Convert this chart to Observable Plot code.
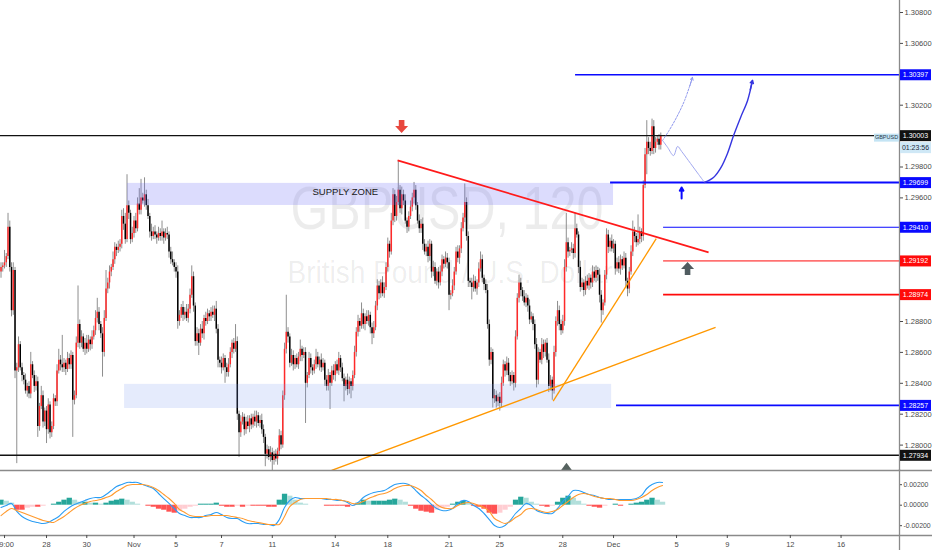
<!DOCTYPE html>
<html>
<head>
<meta charset="utf-8">
<script src="https://cdn.jsdelivr.net/npm/d3@7"></script>
<script src="https://cdn.jsdelivr.net/npm/@observablehq/plot@0.6"></script>
<style>
html, body { margin: 0; padding: 0; background: #fff; overflow: hidden; }
#chart { position: relative; width: 932px; height: 550px; }
#chart svg { position: absolute; left: 0; }
</style>
</head>
<body>
<div id="chart"></div>
<script>
// ================= DATA =================
// GBPUSD 2-hour candles. Closes in pips above 1.2000 (price = 1.2 + pips / 10000)
const firstOpenPips = 912;
const closePips = [
915,916,918,922,941,915,887,913,848,850, 865,850,845,842,835,838,833,852,845,838,
841,812,825,832,815,822,810,826,808,812, 830,828,848,855,852,850,853,849,856,852,
858,829,832,866,878,866,870,862,866,862, 868,865,870,874,882,886,878,872,860,882,
901,905,912,915,920,928,926,928,930,948, 943,933,955,950,933,937,945,940,956,952,
960,958,962,955,948,938,935,938,936,934, 937,935,938,934,937,936,925,920,918,915,
912,880,884,889,884,886,882,888,897,909, 890,867,872,866,875,872,882,880,885,883,
886,884,888,875,855,853,850,856,850,847, 852,860,866,862,867,820,808,815,818,810,
815,812,817,813,818,815,819,814,816,810, 805,794,797,792,795,790,794,791,796,806,
800,832,862,873,870,853,858,852,856,852, 857,862,858,860,840,845,856,850,848,852,
857,852,855,850,853,842,838,845,840,848, 845,852,848,856,850,843,838,842,836,841,
838,845,860,873,880,877,885,878,883,880, 884,876,872,876,890,903,898,905,898,902,
915,930,925,945,962,948,957,965,953,962, 958,945,941,948,954,960,965,955,945,940,
943,930,925,928,922,930,912,915,906,912, 905,912,920,917,921,918,897,898,903,912,
925,921,927,940,947,957,935,906,905,902, 906,901,905,914,920,908,904,900,878,855,
860,830,832,828,831,827,840,852,848,853, 845,841,845,840,870,895,905,900,896,892,
895,890,881,883,878,865,842,860,855,865, 860,866,855,838,842,835,860,880,887,878,
874,880,915,931,925,926,927,924,940,936, 915,902,905,900,906,903,908,905,912,908,
913,910,897,887,892,910,936,928,932,927, 930,914,918,914,920,916,921,906,901,912,
925,938,935,931,933,938,935,968,988,996, 992,990,1006,992,996,998,994,1000
];
// upper / lower wick lengths in pips beyond the candle body
const wickUpPips = [
3,2,8,2,9,4,3,5,2,3, 5,2,3,2,4,2,3,8,2,3,
4,3,2,6,3,2,3,4,2,3, 3,2,4,7,3,19,3,2,4,3,
3,2,3,4,25,3,4,2,3,5, 3,2,4,3,5,9,3,2,4,5,
12,3,4,2,5,3,2,4,3,4, 5,7,20,3,2,4,3,5,4,10,
12,3,11,3,4,2,5,3,4,2, 4,3,7,2,3,4,2,3,5,2,
3,4,3,2,4,3,5,3,4,7, 3,2,4,3,3,5,2,4,3,2,
3,4,2,5,3,2,4,3,2,3, 4,3,2,3,11,3,2,4,3,2,
3,4,2,3,2,4,3,2,3,4, 3,2,3,2,4,3,2,3,2,4,
3,3,4,24,3,2,4,3,2,3, 3,6,2,3,3,2,4,3,2,3,
5,3,2,4,3,2,3,4,2,3, 4,2,3,4,2,3,3,2,4,3,
2,3,4,3,4,2,7,3,2,4, 3,2,3,4,3,4,3,2,4,3,
3,4,2,5,4,3,4,19,3,5, 3,4,2,3,4,3,5,3,2,4,
3,4,3,2,4,3,2,4,3,2, 3,4,3,2,4,3,3,2,4,3,
3,4,2,4,3,12,3,3,2,3, 4,3,2,4,5,3,2,3,4,3,
3,2,4,3,2,3,4,3,2,4, 3,2,3,2,4,3,5,3,2,4,
3,2,4,3,2,3,4,3,2,4, 3,2,3,4,3,2,4,3,6,3,
3,4,5,19,3,2,4,3,10,3, 2,4,3,2,3,4,3,2,4,3,
3,2,4,3,2,3,4,3,2,4, 3,2,3,4,3,2,4,3,2,3,
4,7,3,2,16,3,2,3,4,14, 3,4,5,4,3,2,3,2
];
const wickDownPips = [
4,3,2,3,2,3,4,3,5,60, 3,2,4,3,2,4,3,3,2,4,
3,7,3,2,4,3,9,3,4,3, 2,3,3,2,4,3,3,4,2,3,
3,24,3,2,3,4,3,2,4,3, 2,4,3,2,3,3,4,3,16,3,
2,3,4,3,2,3,4,2,3,3, 4,3,2,4,3,2,3,3,2,3,
3,2,4,3,2,4,3,2,3,4, 2,3,3,4,2,3,4,3,2,3,
4,5,3,2,4,3,2,3,3,2, 4,3,3,8,2,3,4,3,2,3,
3,2,4,3,5,3,4,2,10,3, 3,2,4,3,2,4,16,3,2,4,
3,2,4,3,2,3,4,2,3,3, 4,8,3,2,3,7,3,2,4,3,
3,2,3,3,4,3,2,4,3,2, 3,3,4,2,26,3,2,4,3,2,
3,2,4,3,2,4,3,3,17,2, 3,4,2,3,3,2,10,3,4,3,
8,3,2,3,3,4,2,3,4,2, 3,4,7,3,2,3,4,3,2,3,
2,3,4,2,3,4,3,2,3,4, 3,2,4,3,2,3,4,3,2,3,
3,4,2,3,4,3,4,3,2,3, 4,2,3,3,2,4,10,3,2,3,
2,3,4,3,2,3,3,4,3,8, 3,2,4,3,2,3,4,2,3,4,
3,6,3,4,3,5,3,2,4,3, 4,3,2,5,3,2,3,4,3,2,
3,4,3,2,4,3,5,3,2,3, 4,3,2,4,3,6,2,3,3,4,
3,2,3,3,4,3,2,4,3,2, 4,3,2,4,3,2,3,4,3,2,
3,4,5,8,3,2,3,4,3,2, 3,4,2,3,4,3,2,4,5,3,
2,3,4,3,2,3,4,3,2,13, 4,3,2,4,3,2,3,3
];

// MACD pane, read every 3rd bar, in units of 0.00001
const macdStepBars = 3;
const macdLine = [
-22,-3,17,-61,-110,-140,-159,-169,-179,-169, -140,-110,-61,-22,7,26,46,65,75,75,
104,143,183,202,222,222,222,202,183,163, 114,65,17,-32,-81,-101,-120,-120,-120,-101,
-91,-71,-91,-120,-130,-130,-159,-179,-179,-179, -188,-188,-198,-140,-22,46,75,65,65,65,
65,65,56,56,46,46,26,-3,26,75, 104,124,134,143,173,202,212,212,192,143,
95,56,7,-32,-52,-52,-32,17,46,36, -3,-32,-81,-140,-198,-218,-198,-149,-81,-32,
17,-3,-52,-71,-81,-81,-32,36,85,143, 143,124,104,95,75,65,56,56,56,56,
56,65,95,163,202,222,222
];
const signalLine = [
-101,-61,-32,-52,-71,-91,-110,-130,-149,-159, -169,-140,-110,-71,-32,-3,17,36,46,56,
75,95,134,163,192,202,202,202,192,173, 143,104,65,17,-42,-71,-101,-110,-110,-110,
-101,-101,-101,-101,-110,-120,-130,-149,-159,-169, -179,-188,-188,-188,-110,-13,26,56,65,65,
65,65,65,56,56,46,36,17,17,36, 65,85,104,114,134,163,183,192,192,173,
143,95,56,7,-22,-32,-32,-3,17,26, 17,-3,-22,-61,-130,-159,-179,-159,-120,-91,
-42,-32,-42,-61,-71,-61,-42,-3,36,75, 104,114,104,85,75,65,65,56,46,46,
46,56,75,104,143,173,192
];
const histogramValues = [
49,39,20,-49,-49,-29,-20,-20,-10,0, 10,29,49,68,49,29,29,20,20,10,
20,39,49,59,49,29,10,0,-10,-20, -39,-49,-68,-78,-59,-39,-20,-10,10,10,
10,20,-10,-20,-20,-10,-20,-10,-10,-10, -10,-20,-20,49,107,88,49,20,10,0,
0,0,-10,-10,-10,-10,-20,-10,20,49, 39,39,39,39,49,59,49,29,-10,-39,
-59,-68,-78,-49,-29,-20,10,29,39,20, -10,-20,-39,-78,-88,-78,-49,-20,49,78,
68,29,10,-10,-20,-10,29,68,88,68, 39,10,-10,-20,-29,-10,0,10,-10,0,
10,20,29,49,68,49,29
];

// time axis (bar index of the first bar of each labelled session)
const timeTickBars   = [2, 26, 49, 76, 100, 126, 155, 191, 221, 256, 285, 321, 350, 386, 415, 451, 480];
const timeTickLabels = ["19:00","28","30","Nov","5","7","11","14","18","21","25","28","Dec","5","9","12","16"];

// price ticks visible on the axis (the others sit under the level tags)
const priceTicks = [1.28000,1.28200,1.28400,1.28600,1.28800,1.29600,1.29800,1.30200,1.30600,1.30800];
const macdTicks = [0.002, 0, -0.002];

// horizontal levels
const levelPrices    = [1.30397, 1.30003, 1.29699, 1.29410, 1.29192, 1.28974, 1.28257, 1.27934];
const levelStartBars = [328.3,   -0.3,    348.3,   378.6,   378.6,   378.6,   351.7,   -0.3];
const levelKinds     = ["blue",  "black", "blue",  "blue",  "red",   "red",   "blue",  "black"];

// zones
const zoneNames      = ["supply", "demand"];
const zoneStartBars  = [72.3, 70.6];
const zoneEndBars    = [350.0, 348.9];
const zoneLowPrices  = [1.29551, 1.28237];
const zoneHighPrices = [1.29694, 1.28393];
const zoneLabel = "SUPPLY ZONE";
const zoneLabelBar = 178, zoneLabelPrice = 1.29637;

// trend lines
const trendNames       = ["resistance", "support", "steepSupport"];
const trendStartBars   = [226.6, 188.9, 315.5];
const trendStartPrices = [1.29843, 1.27836, 1.28285];
const trendEndBars     = [404.3, 408.3, 374.4];
const trendEndPrices   = [1.29247, 1.28762, 1.29336];

// projected paths
const projAltBars    = [378.0, 381.4, 386.0, 390.6, 395.1];
const projAltPrices  = [1.29972, 1.30030, 1.30121, 1.30231, 1.30380];
const projDipBars    = [378.0, 380.9, 384.3, 386.6, 388.9, 394.0, 398.6, 402.0];
const projDipPrices  = [1.29972, 1.29927, 1.29874, 1.29933, 1.29901, 1.29823, 1.29752, 1.29700];
const projRallyBars  = [402.0, 407.1, 411.1, 415.1, 418.6, 422.6, 426.6, 429.4];
const projRallyPrices= [1.29700, 1.29732, 1.29791, 1.29888, 1.30004, 1.30121, 1.30231, 1.30360];

// markers
const markerKinds  = ["sell", "buy", "event"];
const markerBars   = [228.9, 392.3, 323.1];
const markerPrices = [1.300625, 1.291435, 1.27856];
const pointerBar = 388.9, pointerFrom = 1.29596, pointerTo = 1.29667;

const watermarkLines = ["GBPUSD, 120", "British Pound / U.S. Dollar"];
const lastPrice = 1.30003, symbolTag = "GBPUSD", countdown = "01:23:56";

// ================= BUILD =================
const FONT = "Liberation Sans, Arial, sans-serif";
const xDomain = [-0.3, 513.4];
const xMax = xDomain[1];
const pxPerPrice = 15450;
const mainH = 471;
const yMain = [1.308 - (mainH - 12) / pxPerPrice, 1.308 + 12 / pxPerPrice];

const candles = closePips.map((c, i) => {
  const open = 1.2 + (i ? closePips[i - 1] : firstOpenPips) / 1e4;
  const close = 1.2 + c / 1e4;
  const high = Math.max(open, close) + (wickUpPips[i] ?? 2) / 1e4;
  const low = Math.min(open, close) - (wickDownPips[i] ?? 2) / 1e4;
  return {i, open, close: close === open ? close + 0.00004 : close, high, low, up: close >= open};
});

const kindColor = {blue: "#0a0aff", red: "#ff0a0a", black: "#111111"};
const levelWidth = [1.5, 1.3, 2, 1, 1, 1.6, 1.6, 1.6];
const levels = levelPrices.map((p, i) => ({price: p, start: levelStartBars[i], kind: levelKinds[i], label: p.toFixed(5), idx: i}));
const zones = zoneNames.map((n, i) => ({name: n, x1: zoneStartBars[i], x2: zoneEndBars[i], y1: zoneLowPrices[i], y2: zoneHighPrices[i]}));
const trends = trendNames.map((n, i) => ({name: n, x1: trendStartBars[i], y1: trendStartPrices[i], x2: trendEndBars[i], y2: trendEndPrices[i]}));
const trendColor = {resistance: "#ff1a1a", support: "#ff9800", steepSupport: "#ff9800"};
const trendWidth = {resistance: 1.7, support: 1.3, steepSupport: 1.3};
const pts = (bx, py) => bx.map((b, i) => ({b, p: py[i]}));

const boxSym = {draw(ctx) { ctx.rect(-15.5, -5.5, 31, 11); }};
const tagSym = {draw(ctx) { ctx.rect(-12.5, -4, 25, 8); }};
const upSym = {draw(ctx) { ctx.moveTo(0,-6.5); ctx.lineTo(6.5,0.5); ctx.lineTo(2.8,0.5); ctx.lineTo(2.8,6.5); ctx.lineTo(-2.8,6.5); ctx.lineTo(-2.8,0.5); ctx.lineTo(-6.5,0.5); ctx.closePath(); }};
const downSym = {draw(ctx) { ctx.moveTo(0,6.5); ctx.lineTo(6.5,-0.5); ctx.lineTo(2.8,-0.5); ctx.lineTo(2.8,-6.5); ctx.lineTo(-2.8,-6.5); ctx.lineTo(-2.8,-0.5); ctx.lineTo(-6.5,-0.5); ctx.closePath(); }};
const triSym = {draw(ctx) { ctx.moveTo(0,-4.5); ctx.lineTo(5.5,3); ctx.lineTo(-5.5,3); ctx.closePath(); }};
const markerStyle = {sell: {symbol: downSym, fill: "#e8473e"}, buy: {symbol: upSym, fill: "#505c60"}, event: {symbol: triSym, fill: "#56625f"}};
const markers = markerKinds.map((k, i) => ({k, b: markerBars[i], p: markerPrices[i]}));

const main = Plot.plot({
  width: 932, height: mainH,
  marginLeft: 0, marginRight: 33, marginTop: 0, marginBottom: 0,
  x: {domain: xDomain, axis: null},
  y: {domain: yMain},
  color: {type: "identity"},
  style: {fontFamily: FONT, fontSize: "7.5px", background: "white"},
  marks: [
    // watermark
    Plot.text([watermarkLines[0]], {frameAnchor: "middle", dx: -3, dy: -7.5, text: d => d, lineAnchor: "bottom", textAnchor: "middle", fontSize: 62, fill: "#000", fillOpacity: 0.075, fontFamily: FONT}),
    Plot.text([watermarkLines[1]], {frameAnchor: "middle", dx: 0, dy: 46.5, text: d => d, lineAnchor: "bottom", textAnchor: "middle", fontSize: 31, fill: "#000", fillOpacity: 0.075, fontFamily: FONT}),
    // candles
    Plot.ruleX(candles, {x: "i", y1: "low", y2: "high", stroke: "#8e8e8e", strokeWidth: 1, clip: true}),
    Plot.ruleX(candles, {x: "i", y1: "open", y2: "close", stroke: d => d.up ? "#ff2a2a" : "#000000", strokeWidth: 1.5, clip: true}),
    // zones
    Plot.rect(zones.filter(z => z.name === "supply"), {x1: "x1", x2: "x2", y1: "y1", y2: "y2", fill: "#6b6ef5", fillOpacity: 0.24}),
    Plot.rect(zones.filter(z => z.name === "demand"), {x1: "x1", x2: "x2", y1: "y1", y2: "y2", fill: "#7b9cf0", fillOpacity: 0.2}),
    Plot.text([zoneLabel], {x: () => zoneLabelBar, y: () => zoneLabelPrice, text: d => d, textAnchor: "start", fontSize: 9.5, fill: "#1a1a1a", fontFamily: FONT}),
    // trend lines
    ...trends.map(t => Plot.link([t], {x1: "x1", y1: "y1", x2: "x2", y2: "y2", stroke: trendColor[t.name], strokeWidth: trendWidth[t.name], clip: true})),
    // levels
    ...levels.map(l => Plot.ruleY([l], {y: "price", x1: "start", x2: () => xMax, stroke: kindColor[l.kind], strokeWidth: levelWidth[l.idx]})),
    // projections
    Plot.line(pts(projAltBars, projAltPrices), {x: "b", y: "p", curve: "catmull-rom", stroke: "#8f98ee", strokeWidth: 1, strokeDasharray: "2,1.5"}),
    Plot.arrow([{x1: 393.6, y1: 1.30325, x2: 395.1, y2: 1.30380}], {x1: "x1", y1: "y1", x2: "x2", y2: "y2", stroke: "#8f98ee", strokeWidth: 1, headLength: 6}),
    Plot.line(pts(projDipBars, projDipPrices), {x: "b", y: "p", curve: "catmull-rom", stroke: "#a2a9f0", strokeWidth: 1}),
    Plot.line(pts(projRallyBars, projRallyPrices), {x: "b", y: "p", curve: "catmull-rom", stroke: "#3535e0", strokeWidth: 1.4}),
    Plot.arrow([{x1: 428.1, y1: 1.30300, x2: 429.4, y2: 1.30360}], {x1: "x1", y1: "y1", x2: "x2", y2: "y2", stroke: "#3535e0", strokeWidth: 1.4, headLength: 7}),
    // markers
    ...markers.map(m => Plot.dot([m], {x: "b", y: "p", symbol: markerStyle[m.k].symbol, fill: markerStyle[m.k].fill, stroke: "none"})),
    Plot.arrow([{x1: pointerBar, y1: pointerFrom, x2: pointerBar, y2: pointerTo}], {x1: "x1", y1: "y1", x2: "x2", y2: "y2", stroke: "#0a0aff", strokeWidth: 2, headLength: 5}),
    // price axis
    Plot.ruleX([xMax], {stroke: "#8a8a8a", strokeWidth: 1.3}),
    Plot.axisY(priceTicks, {anchor: "right", tickSize: 3, tickPadding: 2, tickFormat: d => d.toFixed(5), fontSize: 7.5, color: "#4a4a4a", label: null}),
    Plot.dot(levels, {y: "price", frameAnchor: "right", dx: 16, symbol: boxSym, fill: d => kindColor[d.kind], stroke: "none"}),
    Plot.text(levels, {y: "price", frameAnchor: "right", dx: 16, text: "label", fill: "white", fontSize: 7, textAnchor: "middle", fontFamily: FONT}),
    Plot.dot([lastPrice], {y: d => d, frameAnchor: "right", dx: 16, dy: 12, symbol: boxSym, fill: "#cfe8f6", stroke: "none"}),
    Plot.text([countdown], {y: () => lastPrice, frameAnchor: "right", dx: 16, dy: 12, text: d => d, fill: "#1c2b3a", fontSize: 7, textAnchor: "middle", fontFamily: FONT}),
    Plot.dot([lastPrice], {y: d => d, frameAnchor: "right", dx: -13, dy: 2, symbol: tagSym, fill: "#c4e4f4", stroke: "none"}),
    Plot.text([symbolTag], {y: () => lastPrice, frameAnchor: "right", dx: -13, dy: 2, text: d => d, fill: "#2a3a4a", fontSize: 5.5, textAnchor: "middle", fontFamily: FONT})
  ]
});

// squeeze watermark lines to the reference widths
d3.select(main).selectAll("text").each(function () {
  if (this.textContent === watermarkLines[0]) d3.select(this).attr("textLength", 313).attr("lengthAdjust", "spacingAndGlyphs");
  if (this.textContent === watermarkLines[1]) d3.select(this).attr("textLength", 325).attr("lengthAdjust", "spacingAndGlyphs");
});

// ---- MACD pane ----
const macdRows = macdLine.map((v, k) => {
  const h = histogramValues[k] / 1e5, prev = k ? histogramValues[k - 1] / 1e5 : h;
  const color = h >= 0 ? (h >= prev ? "#26a69a" : "#b2dfdb") : (h <= prev ? "#ff5252" : "#ffcdd2");
  return {bar: k * macdStepBars, macd: v / 1e5, sig: signalLine[k] / 1e5, hist: h, color};
});

const pxPerMacd = 10250, macdFrame = 64, zeroFromTop = 33.7;
const yTop = zeroFromTop / pxPerMacd, yBot = -(macdFrame - zeroFromTop) / pxPerMacd;
const labelOf = new Map(timeTickBars.map((b, i) => [b, timeTickLabels[i]]));

const lower = Plot.plot({
  width: 932, height: 81,
  marginLeft: 0, marginRight: 33, marginTop: 2, marginBottom: 15,
  x: {domain: xDomain},
  y: {domain: [yBot, yTop]},
  color: {type: "identity"},
  style: {fontFamily: FONT, fontSize: "7.5px", background: "transparent"},
  marks: [
    Plot.ruleX(macdRows, {x: "bar", y1: () => 0, y2: "hist", stroke: "color", strokeWidth: 5.3}),
    Plot.line(macdRows, {x: "bar", y: "macd", curve: "catmull-rom", stroke: "#2a9df4", strokeWidth: 1.1}),
    Plot.line(macdRows, {x: "bar", y: "sig", curve: "catmull-rom", stroke: "#ff9a2e", strokeWidth: 1.1}),
    Plot.ruleY([yTop], {x1: () => xDomain[0] - 1, x2: () => xMax + 25, dy: -1, stroke: "#8a8a8a", strokeWidth: 1.6}),
    Plot.ruleY([yBot], {x1: () => xDomain[0] - 1, x2: () => xMax + 25, stroke: "#8a8a8a", strokeWidth: 1.5}),
    Plot.ruleX([xMax], {y1: () => yTop + 3 / pxPerMacd, y2: () => yBot - 16 / pxPerMacd, stroke: "#8a8a8a", strokeWidth: 1.3}),
    Plot.axisY(macdTicks, {anchor: "right", tickSize: 2, tickPadding: 2, tickFormat: d => d.toFixed(5), fontSize: 6.9, color: "#4a4a4a", label: null}),
    Plot.axisX(timeTickBars, {anchor: "bottom", tickSize: 3, tickPadding: 3, tickFormat: d => labelOf.get(d), fontSize: 7.5, color: "#4a4a4a", label: null})
  ]
});

const wrap = document.getElementById("chart");
main.style.top = "0px";
lower.style.top = "469px";
wrap.appendChild(main);
wrap.appendChild(lower);
</script>
</body>
</html>
